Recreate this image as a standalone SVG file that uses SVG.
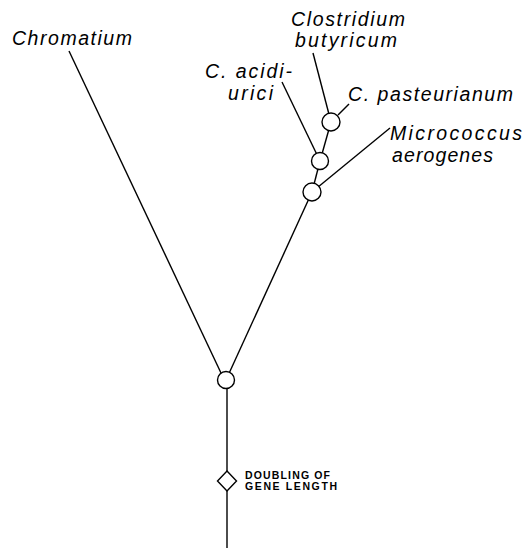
<svg xmlns="http://www.w3.org/2000/svg" width="525" height="549" viewBox="0 0 525 549">
<style>
.ln{stroke:#000;stroke-width:1.4;fill:none}
.nd{stroke:#000;stroke-width:1.4;fill:#fff}
.lb{font-family:"Liberation Sans",Arial,sans-serif;font-style:italic;font-size:19.5px;fill:#000}
.sm{font-family:"Liberation Sans",Arial,sans-serif;font-weight:bold;font-size:10.5px;fill:#000}
</style>
<rect width="525" height="549" fill="#fff"/>
<g id="connectors">
<line class="ln" x1="69" y1="51" x2="221" y2="373"/>
<line class="ln" x1="226" y1="380" x2="312" y2="192"/>
<line class="ln" x1="313" y1="53" x2="331" y2="122"/>
<line class="ln" x1="331" y1="122" x2="320" y2="161"/>
<line class="ln" x1="282" y1="82" x2="320" y2="161"/>
<line class="ln" x1="320" y1="161" x2="312" y2="192"/>
<line class="ln" x1="338" y1="115" x2="349" y2="104"/>
<line class="ln" x1="312" y1="192" x2="390" y2="128"/>
<line class="ln" x1="227" y1="380" x2="227" y2="548"/>
</g>
<g id="chromatium"><text class="lb" x="12" y="45" textLength="120">Chromatium</text></g>
<g id="clostridium-butyricum">
<text class="lb" x="291" y="26" textLength="114">Clostridium</text>
<text class="lb" x="295" y="47" textLength="102">butyricum</text>
</g>
<g id="c-acidiurici">
<text class="lb" x="205" y="78" textLength="87">C. acidi-</text>
<text class="lb" x="228" y="100" textLength="45">urici</text>
</g>
<g id="c-pasteurianum"><text class="lb" x="348" y="101" textLength="165">C. pasteurianum</text></g>
<g id="micrococcus-aerogenes">
<text class="lb" x="390" y="140" textLength="132">Micrococcus</text>
<text class="lb" x="392" y="162" textLength="101">aerogenes</text>
</g>
<g id="node-pasteurianum"><circle class="nd" cx="331" cy="122" r="9"/></g>
<g id="node-acidiurici"><circle class="nd" cx="320" cy="161" r="8.5"/></g>
<g id="node-micrococcus"><circle class="nd" cx="312" cy="192" r="9"/></g>
<g id="node-root"><circle class="nd" cx="226" cy="380" r="8.5"/></g>
<g id="node-doubling">
<polygon class="nd" points="227,471 236.5,481 227,491 217.5,481"/>
<text class="sm" x="245" y="479" textLength="85">DOUBLING OF</text>
<text class="sm" x="245" y="490" textLength="92">GENE LENGTH</text>
</g>
</svg>
